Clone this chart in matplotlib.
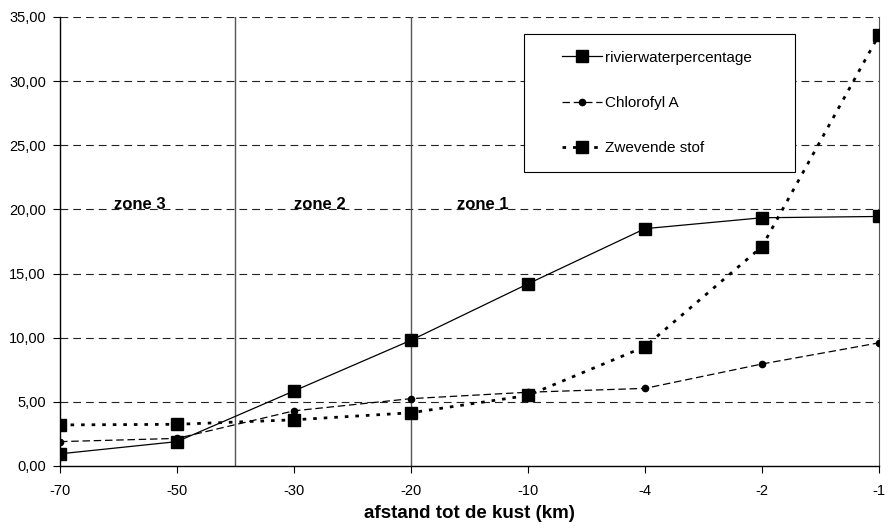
import matplotlib
matplotlib.use("Agg")
import matplotlib.pyplot as plt
from matplotlib.patches import Rectangle

plt.rcParams['font.family'] = ['Liberation Sans', 'DejaVu Sans']

categories = ["-70", "-50", "-30", "-20", "-10", "-4", "-2", "-1"]
rivierwater = [0.95, 1.9, 5.85, 9.8, 14.2, 18.5, 19.35, 19.45]
chlorofyl = [1.9, 2.15, 4.3, 5.25, 5.75, 6.05, 7.95, 9.6]
zwevende = [3.2, 3.25, 3.6, 4.15, 5.5, 9.3, 17.1, 33.6]
yticks = [0, 5, 10, 15, 20, 25, 30, 35]
zones = ["zone 3", "zone 2", "zone 1"]

fig = plt.figure(figsize=(8.94, 5.29), dpi=100)
ax = fig.add_axes([0.0671, 0.1191, 0.9161, 0.8488])

x = list(range(len(categories)))

for yv in yticks[1:]:
    ax.axhline(yv, color='#222222', lw=0.8, ls=(0, (7, 4.5)), zorder=1)

ax.axvline(1.5, color='#555555', lw=1.0, zorder=1)
ax.axvline(3.0, color='#555555', lw=1.0, zorder=1)

ax.plot(x, rivierwater, color='black', lw=0.9, marker='s', ms=8,
        label='rivierwaterpercentage', zorder=3)
ax.plot(x, chlorofyl, color='black', lw=0.9, ls=(0, (6, 3)), marker='o', ms=4.5,
        label='Chlorofyl A', zorder=3)
ax.plot(x, zwevende, color='black', lw=2.0, ls=(0, (1.3, 2.5)), marker='s', ms=8,
        label='Zwevende stof', zorder=3)

ax.text(0.68, 20.0, zones[0], fontsize=12, fontweight='bold', ha='center', va='baseline')
ax.text(2.22, 20.0, zones[1], fontsize=12, fontweight='bold', ha='center', va='baseline')
ax.text(3.61, 20.0, zones[2], fontsize=12, fontweight='bold', ha='center', va='baseline')

ax.set_xlim(0, 7)
ax.set_ylim(0, 35)
ax.set_xticks(x)
ax.set_xticklabels(categories, fontsize=10.5)
ax.set_yticks(yticks)
ax.set_yticklabels([f"{v:.2f}".replace('.', ',') for v in yticks], fontsize=10.5)
ax.tick_params(direction='out', length=5, width=0.8, color='black', pad=5)
ax.tick_params(axis='x', pad=8)

ax.spines['top'].set_visible(False)
ax.spines['right'].set_color('#555555')
ax.spines['left'].set_linewidth(1.0)
ax.spines['bottom'].set_linewidth(1.0)

ax.set_xlabel("afstand tot de kust (km)", fontsize=13.5, fontweight='bold', labelpad=5)

# legend frame drawn manually
ax.add_patch(Rectangle((0.5665, 0.6548), 0.3309, 0.3072, transform=ax.transAxes,
                       facecolor='white', edgecolor='black', lw=0.8, zorder=4))
leg = ax.legend(loc='upper left', bbox_to_anchor=(0.613, 0.925), fontsize=11,
                frameon=False, labelspacing=2.05, handlelength=2.6, borderpad=0,
                handletextpad=0.2, borderaxespad=0)
leg.set_zorder(5)

fig.savefig("out.png", dpi=100)
